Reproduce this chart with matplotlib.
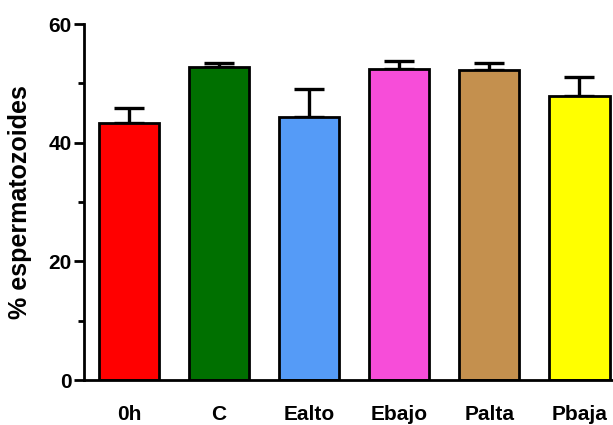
import matplotlib.pyplot as plt

# group names, means and upper error (SEM)
groups = ['0h', 'C', 'Ealto', 'Ebajo', 'Palta', 'Pbaja']
means = [43.3, 52.7, 44.3, 52.4, 52.3, 47.9]
errors = [2.5, 0.8, 4.7, 1.3, 1.2, 3.2]
colors = ['#FF0000', '#007000', '#559BF7', '#F74DD9', '#C4904E', '#FFFF00']

plt.rcParams['font.family'] = ['Liberation Sans', 'DejaVu Sans']

fig = plt.figure(figsize=(6.13, 4.25), dpi=100)
ax = fig.add_axes([84 / 613, 45 / 425, 540.5 / 613, 356 / 425])

x = range(len(groups))
ax.bar(x, means, width=0.667, color=colors, edgecolor='black', linewidth=2, zorder=2)
ax.errorbar(x, means, yerr=[[0] * len(errors), errors], fmt='none', ecolor='black',
            elinewidth=2.4, capsize=11, capthick=2.4, zorder=1)

ax.set_xlim(-0.5, 5.5)
ax.set_ylim(0, 60)
ax.set_yticks([0, 20, 40, 60])
ax.set_yticks([10, 30, 50], minor=True)
ax.set_xticks(list(x))
ax.set_xticklabels(groups, fontsize=15, fontweight='bold')
ax.tick_params(axis='x', length=0, pad=18)
ax.tick_params(axis='y', which='major', length=7, width=2, labelsize=15, pad=2)
ax.tick_params(axis='y', which='minor', length=4, width=2)
for lbl in ax.get_yticklabels():
    lbl.set_fontweight('bold')

ax.set_ylabel('% espermatozoides', fontsize=18, fontweight='bold', labelpad=12)

for s in ['top', 'right']:
    ax.spines[s].set_visible(False)
for s in ['left', 'bottom']:
    ax.spines[s].set_linewidth(2)

fig.savefig('out.png', dpi=100)
